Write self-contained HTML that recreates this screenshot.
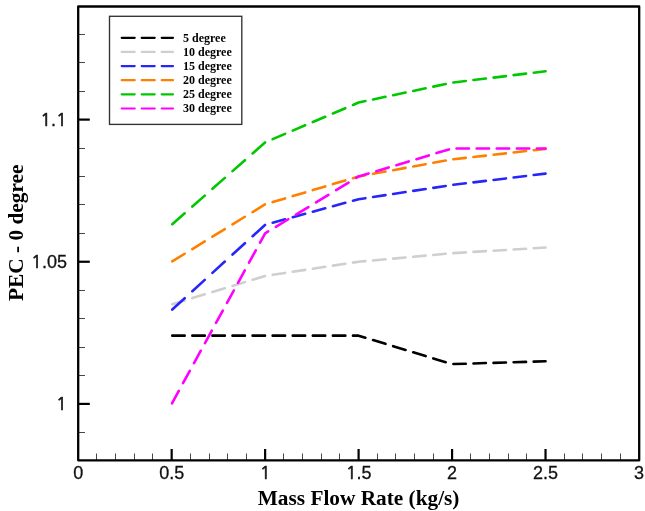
<!DOCTYPE html>
<html><head><meta charset="utf-8"><style>
html,body{margin:0;padding:0;background:#fff;}
body{width:645px;height:511px;overflow:hidden;}
svg{display:block;}
.tk{font-family:"Liberation Sans",Arial,sans-serif;font-size:18px;fill:#111;stroke:#111;stroke-width:0.3px;}
.ttl{font-family:"Liberation Serif","Times New Roman",serif;font-weight:bold;font-size:21.3px;fill:#000;}
.yt{font-family:"Liberation Serif","Times New Roman",serif;font-weight:bold;font-size:21.35px;fill:#000;}
.o{font-family:"NanumGothic","Liberation Sans",sans-serif;stroke-width:0.6px;}
.lg{font-family:"Liberation Serif","Times New Roman",serif;font-weight:bold;font-size:12px;fill:#000;}
</style></head><body>
<svg width="645" height="511" viewBox="0 0 645 511">
<rect width="645" height="511" fill="#fff"/>
<path d="M172.27,335.67 L184.67,335.67M192.35,335.67 L204.75,335.67M212.43,335.67 L224.83,335.67M232.51,335.67 L244.91,335.67M252.59,335.67 L264.99,335.67M272.67,335.67 L285.07,335.67M292.75,335.67 L305.15,335.67M312.83,335.67 L325.23,335.67M332.91,335.67 L345.31,335.67M352.99,335.67 L358.60,335.67 L365.39,337.73M373.07,340.07 L385.47,343.84M393.15,346.18 L405.55,349.95M413.23,352.28 L425.63,356.06M433.31,358.39 L445.71,362.16M453.39,364.06 L465.79,363.68M473.47,363.45 L485.87,363.07M493.55,362.84 L505.95,362.46M513.63,362.23 L526.03,361.85M533.71,361.61 L545.53,361.26" fill="none" stroke="#000000" stroke-width="2.6" stroke-linecap="round" stroke-linejoin="round"/>
<path d="M172.27,304.21 L184.67,300.44M192.35,298.10 L204.75,294.33M212.43,292.00 L224.83,288.23M232.51,285.89 L244.91,282.12M252.59,279.78 L264.99,276.01M272.67,274.82 L285.07,272.93M292.75,271.77 L305.15,269.88M312.83,268.71 L325.23,266.83M332.91,265.66 L345.31,263.77M352.99,262.60 L358.60,261.75 L365.39,261.13M373.07,260.43 L385.47,259.30M393.15,258.60 L405.55,257.47M413.23,256.77 L425.63,255.63M433.31,254.93 L445.71,253.80M453.39,253.14 L465.79,252.39M473.47,251.92 L485.87,251.16M493.55,250.70 L505.95,249.94M513.63,249.48 L526.03,248.72M533.71,248.25 L545.53,247.54" fill="none" stroke="#cfcfcf" stroke-width="2.6" stroke-linecap="round" stroke-linejoin="round"/>
<path d="M172.27,309.53 L184.67,298.22M192.35,291.21 L204.75,279.89M212.43,272.89 L224.83,261.57M232.51,254.56 L244.91,243.25M252.59,236.24 L264.99,224.92M272.67,222.73 L285.07,219.33M292.75,217.23 L305.15,213.84M312.83,211.73 L325.23,208.34M332.91,206.24 L345.31,202.84M352.99,200.74 L358.60,199.20 L365.39,198.17M373.07,197.00 L385.47,195.12M393.15,193.95 L405.55,192.06M413.23,190.90 L425.63,189.01M433.31,187.84 L445.71,185.96M453.39,184.83 L465.79,183.32M473.47,182.39 L485.87,180.88M493.55,179.94 L505.95,178.43M513.63,177.50 L526.03,175.99M533.71,175.06 L545.53,173.62" fill="none" stroke="#2626fa" stroke-width="2.6" stroke-linecap="round" stroke-linejoin="round"/>
<path d="M172.27,261.38 L184.67,253.76M192.35,249.04 L204.75,241.42M212.43,236.71 L224.83,229.09M232.51,224.37 L244.91,216.75M252.59,212.03 L264.99,204.41M272.67,202.08 L285.07,198.38M292.75,196.09 L305.15,192.39M312.83,190.10 L325.23,186.41M332.91,184.12 L345.31,180.42M352.99,178.13 L358.60,176.46 L365.39,175.22M373.07,173.82 L385.47,171.56M393.15,170.16 L405.55,167.89M413.23,166.49 L425.63,164.23M433.31,162.83 L445.71,160.56M453.39,159.25 L465.79,157.86M473.47,156.99 L485.87,155.60M493.55,154.73 L505.95,153.34M513.63,152.47 L526.03,151.08M533.71,150.21 L545.53,148.88" fill="none" stroke="#ff8000" stroke-width="2.6" stroke-linecap="round" stroke-linejoin="round"/>
<path d="M172.27,224.26 L184.67,213.32M192.35,206.55 L204.75,195.61M212.43,188.84 L224.83,177.90M232.51,171.12 L244.91,160.19M252.59,153.41 L264.99,142.47M272.67,139.14 L285.07,133.86M292.75,130.59 L305.15,125.30M312.83,122.03 L325.23,116.75M332.91,113.48 L345.31,108.20M352.99,104.93 L358.60,102.54 L365.39,101.10M373.07,99.46 L385.47,96.82M393.15,95.19 L405.55,92.55M413.23,90.91 L425.63,88.27M433.31,86.64 L445.71,84.00M453.39,82.48 L465.79,80.97M473.47,80.04 L485.87,78.53M493.55,77.59 L505.95,76.09M513.63,75.15 L526.03,73.64M533.71,72.71 L545.53,71.27" fill="none" stroke="#00c800" stroke-width="2.6" stroke-linecap="round" stroke-linejoin="round"/>
<path d="M172.00,403.30 L178.79,390.90M183.00,383.22 L189.79,370.82M194.00,363.14 L200.79,350.74M205.00,343.06 L211.80,330.66M216.01,322.98 L222.80,310.58M227.01,302.90 L233.80,290.50M238.01,282.82 L244.80,270.42M249.01,262.74 L255.81,250.34M260.02,242.66 L265.13,233.32 L268.19,231.46M275.87,226.79 L288.27,219.24M295.95,214.57 L308.35,207.03M316.03,202.36 L328.43,194.81M336.11,190.14 L348.51,182.60M356.19,177.92 L358.60,176.46 L368.59,173.47M376.27,171.16 L388.67,167.45M396.35,165.15 L408.75,161.43M416.43,159.13 L428.83,155.42M436.51,153.12 L448.91,149.40M456.59,148.46 L468.99,148.46M476.67,148.46 L489.07,148.46M496.75,148.46 L509.15,148.46M516.83,148.46 L529.23,148.46M536.91,148.46 L545.53,148.46" fill="none" stroke="#ff00ff" stroke-width="2.6" stroke-linecap="round" stroke-linejoin="round"/>
<line x1="96.50" y1="460.3" x2="96.50" y2="453.50" stroke="#484848" stroke-width="1.0"/>
<line x1="115.50" y1="460.3" x2="115.50" y2="453.50" stroke="#484848" stroke-width="1.0"/>
<line x1="134.50" y1="460.3" x2="134.50" y2="453.50" stroke="#484848" stroke-width="1.0"/>
<line x1="152.50" y1="460.3" x2="152.50" y2="453.50" stroke="#484848" stroke-width="1.0"/>
<line x1="171.67" y1="460.3" x2="171.67" y2="449.00" stroke="#000" stroke-width="2.2"/>
<line x1="190.50" y1="460.3" x2="190.50" y2="453.50" stroke="#484848" stroke-width="1.0"/>
<line x1="209.50" y1="460.3" x2="209.50" y2="453.50" stroke="#484848" stroke-width="1.0"/>
<line x1="227.50" y1="460.3" x2="227.50" y2="453.50" stroke="#484848" stroke-width="1.0"/>
<line x1="246.50" y1="460.3" x2="246.50" y2="453.50" stroke="#484848" stroke-width="1.0"/>
<line x1="265.13" y1="460.3" x2="265.13" y2="449.00" stroke="#000" stroke-width="2.2"/>
<line x1="283.50" y1="460.3" x2="283.50" y2="453.50" stroke="#484848" stroke-width="1.0"/>
<line x1="302.50" y1="460.3" x2="302.50" y2="453.50" stroke="#484848" stroke-width="1.0"/>
<line x1="321.50" y1="460.3" x2="321.50" y2="453.50" stroke="#484848" stroke-width="1.0"/>
<line x1="339.50" y1="460.3" x2="339.50" y2="453.50" stroke="#484848" stroke-width="1.0"/>
<line x1="358.60" y1="460.3" x2="358.60" y2="449.00" stroke="#000" stroke-width="2.2"/>
<line x1="377.50" y1="460.3" x2="377.50" y2="453.50" stroke="#484848" stroke-width="1.0"/>
<line x1="395.50" y1="460.3" x2="395.50" y2="453.50" stroke="#484848" stroke-width="1.0"/>
<line x1="414.50" y1="460.3" x2="414.50" y2="453.50" stroke="#484848" stroke-width="1.0"/>
<line x1="433.50" y1="460.3" x2="433.50" y2="453.50" stroke="#484848" stroke-width="1.0"/>
<line x1="452.07" y1="460.3" x2="452.07" y2="449.00" stroke="#000" stroke-width="2.2"/>
<line x1="470.50" y1="460.3" x2="470.50" y2="453.50" stroke="#484848" stroke-width="1.0"/>
<line x1="489.50" y1="460.3" x2="489.50" y2="453.50" stroke="#484848" stroke-width="1.0"/>
<line x1="508.50" y1="460.3" x2="508.50" y2="453.50" stroke="#484848" stroke-width="1.0"/>
<line x1="526.50" y1="460.3" x2="526.50" y2="453.50" stroke="#484848" stroke-width="1.0"/>
<line x1="545.53" y1="460.3" x2="545.53" y2="449.00" stroke="#000" stroke-width="2.2"/>
<line x1="564.50" y1="460.3" x2="564.50" y2="453.50" stroke="#484848" stroke-width="1.0"/>
<line x1="582.50" y1="460.3" x2="582.50" y2="453.50" stroke="#484848" stroke-width="1.0"/>
<line x1="601.50" y1="460.3" x2="601.50" y2="453.50" stroke="#484848" stroke-width="1.0"/>
<line x1="620.50" y1="460.3" x2="620.50" y2="453.50" stroke="#484848" stroke-width="1.0"/>
<line x1="78.2" y1="432.50" x2="85.00" y2="432.50" stroke="#484848" stroke-width="1.0"/>
<line x1="78.2" y1="403.90" x2="89.80" y2="403.90" stroke="#000" stroke-width="2.2"/>
<line x1="78.2" y1="375.50" x2="85.00" y2="375.50" stroke="#484848" stroke-width="1.0"/>
<line x1="78.2" y1="347.50" x2="85.00" y2="347.50" stroke="#484848" stroke-width="1.0"/>
<line x1="78.2" y1="318.50" x2="85.00" y2="318.50" stroke="#484848" stroke-width="1.0"/>
<line x1="78.2" y1="290.50" x2="85.00" y2="290.50" stroke="#484848" stroke-width="1.0"/>
<line x1="78.2" y1="261.75" x2="89.80" y2="261.75" stroke="#000" stroke-width="2.2"/>
<line x1="78.2" y1="233.50" x2="85.00" y2="233.50" stroke="#484848" stroke-width="1.0"/>
<line x1="78.2" y1="204.50" x2="85.00" y2="204.50" stroke="#484848" stroke-width="1.0"/>
<line x1="78.2" y1="176.50" x2="85.00" y2="176.50" stroke="#484848" stroke-width="1.0"/>
<line x1="78.2" y1="148.50" x2="85.00" y2="148.50" stroke="#484848" stroke-width="1.0"/>
<line x1="78.2" y1="119.60" x2="89.80" y2="119.60" stroke="#000" stroke-width="2.2"/>
<line x1="78.2" y1="91.50" x2="85.00" y2="91.50" stroke="#484848" stroke-width="1.0"/>
<line x1="78.2" y1="62.50" x2="85.00" y2="62.50" stroke="#484848" stroke-width="1.0"/>
<line x1="78.2" y1="34.50" x2="85.00" y2="34.50" stroke="#484848" stroke-width="1.0"/>
<rect x="78.2" y="6.5" width="561.00" height="453.80" fill="none" stroke="#000" stroke-width="2.3" stroke-linejoin="round"/>
<text class="tk" x="78.20" y="479" text-anchor="middle">0</text>
<text class="tk" x="171.67" y="479" text-anchor="middle">0.5</text>
<text class="tk" x="265.13" y="479" text-anchor="middle"><tspan class="o">1</tspan></text>
<text class="tk" x="358.60" y="479" text-anchor="middle"><tspan class="o">1</tspan>.5</text>
<text class="tk" x="452.07" y="479" text-anchor="middle">2</text>
<text class="tk" x="545.53" y="479" text-anchor="middle">2.5</text>
<text class="tk" x="639.00" y="479" text-anchor="middle">3</text>
<text class="tk" x="67" y="410.30" text-anchor="end"><tspan class="o">1</tspan></text>
<text class="tk" x="67" y="268.15" text-anchor="end"><tspan class="o">1</tspan>.05</text>
<text class="tk" x="67" y="126.00" text-anchor="end"><tspan class="o">1</tspan>.<tspan class="o">1</tspan></text>
<text class="ttl" x="358.6" y="504.6" text-anchor="middle">Mass Flow Rate (kg/s)</text>
<text class="yt" transform="translate(23.0,232.8) rotate(-90)" text-anchor="middle">PEC - 0 degree</text>
<rect x="109.5" y="16.3" width="132.3" height="108.1" fill="#fff" stroke="#333" stroke-width="1.35"/>
<line x1="121.7" y1="37.80" x2="173" y2="37.80" stroke="#000000" stroke-width="2.2" stroke-dasharray="13 7" stroke-linecap="round"/>
<text class="lg" x="183" y="41.70">5 degree</text>
<line x1="121.7" y1="51.94" x2="173" y2="51.94" stroke="#cfcfcf" stroke-width="2.2" stroke-dasharray="13 7" stroke-linecap="round"/>
<text class="lg" x="183" y="55.84">10 degree</text>
<line x1="121.7" y1="66.08" x2="173" y2="66.08" stroke="#2626fa" stroke-width="2.2" stroke-dasharray="13 7" stroke-linecap="round"/>
<text class="lg" x="183" y="69.98">15 degree</text>
<line x1="121.7" y1="80.22" x2="173" y2="80.22" stroke="#ff8000" stroke-width="2.2" stroke-dasharray="13 7" stroke-linecap="round"/>
<text class="lg" x="183" y="84.12">20 degree</text>
<line x1="121.7" y1="94.36" x2="173" y2="94.36" stroke="#00c800" stroke-width="2.2" stroke-dasharray="13 7" stroke-linecap="round"/>
<text class="lg" x="183" y="98.26">25 degree</text>
<line x1="121.7" y1="108.50" x2="173" y2="108.50" stroke="#ff00ff" stroke-width="2.2" stroke-dasharray="13 7" stroke-linecap="round"/>
<text class="lg" x="183" y="112.40">30 degree</text>
</svg></body></html>
